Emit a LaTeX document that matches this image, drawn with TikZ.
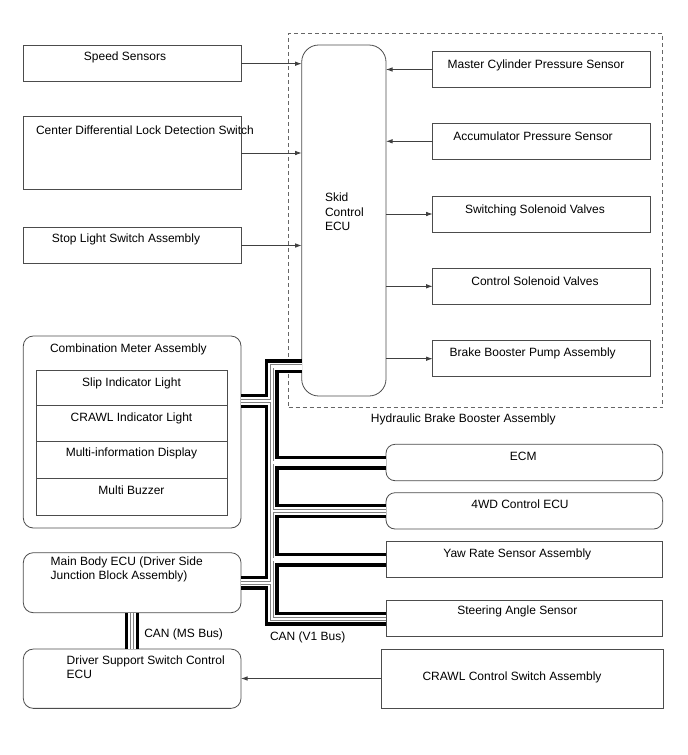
\documentclass[tikz,border=0pt]{standalone}
\usepackage{fontspec}
\setmainfont{Liberation Sans}
\usetikzlibrary{arrows.meta}
\begin{document}
\begin{tikzpicture}[x=1pt,y=-1pt,
  font=\fontsize{12}{14.3}\selectfont,
  box/.style={draw=black!70, line width=0.8pt, inner sep=0pt, outer sep=0pt},
  rbox/.style={box, rounded corners=9pt},
  txt/.style={inner sep=0pt, outer sep=0pt, text height=8.6pt, text depth=0pt},
  ltxt/.style={txt, anchor=west, align=left},
  arr/.style={draw=black!75, line width=0.8pt, -{Latex[length=6.5pt,width=4.5pt]}},
  cable/.style={draw=black, line width=3.3pt, double=white, double distance=7.4pt,
    postaction={draw=black!50, line width=0.7pt, double=white, double distance=2.4pt}},
]
\useasboundingbox (0,0) rectangle (688,755);

% Hydraulic brake booster assembly (dashed)
\node[draw=black!60, line width=0.8pt, dash pattern=on 4pt off 3pt, inner sep=0pt,
  minimum width=374.2pt, minimum height=373.8pt] (hba) at (475.6,220.4) {};
\node[txt] (thba) at (463.3,418.3) {Hydraulic Brake Booster Assembly};

% left input boxes
\node[box, minimum width=218pt, minimum height=36pt] (speed) at (132,63.7) {};
\node[box, minimum width=218pt, minimum height=72.6pt] (cdl) at (132,153) {};
\node[box, minimum width=218pt, minimum height=35.6pt] (stop) at (132,245.5) {};
\node[txt] (tspeed) at (125,56) {Speed Sensors};
\node[ltxt] (tcdl) at (36,130) {Center Differential Lock Detection Switch};
\node[txt] (tstop) at (126,238) {Stop Light Switch Assembly};

% Skid control ECU
\node[box, rounded corners=17pt, minimum width=84.3pt, minimum height=351pt] (ecu) at (343.85,220.5) {};
\node[ltxt] (tecu) at (325,226) {Skid\\Control\\ECU};

% right boxes inside hydraulic assembly
\node[box, minimum width=218pt, minimum height=35.6pt] (mcp) at (541.7,69.5) {};
\node[box, minimum width=218pt, minimum height=36pt] (acc) at (541.7,141.3) {};
\node[box, minimum width=218pt, minimum height=36pt] (ssv) at (541.7,214) {};
\node[box, minimum width=218pt, minimum height=36pt] (csv) at (541.7,286.3) {};
\node[box, minimum width=218pt, minimum height=36pt] (bbp) at (541.7,358.7) {};
\node[txt] (tmcp) at (536,64.3) {Master Cylinder Pressure Sensor};
\node[txt] (tacc) at (533,136) {Accumulator Pressure Sensor};
\node[txt] (tssv) at (535,209) {Switching Solenoid Valves};
\node[txt] (tcsv) at (535,280.7) {Control Solenoid Valves};
\node[txt] (tbbp) at (532.7,352.3) {Brake Booster Pump Assembly};

% arrows
\draw[arr] (speed.east) -- (speed.east -| ecu.west);
\draw[arr] (cdl.east) -- (cdl.east -| ecu.west);
\draw[arr] (stop.east) -- (stop.east -| ecu.west);
\draw[arr] (mcp.west) -- (mcp.west -| ecu.east);
\draw[arr] (acc.west) -- (acc.west -| ecu.east);
\draw[arr] (ecu.east |- ssv.west) -- (ssv.west);
\draw[arr] (ecu.east |- csv.west) -- (csv.west);
\draw[arr] (ecu.east |- bbp.west) -- (bbp.west);

% Combination meter
\node[box, rounded corners=10pt, minimum width=217.7pt, minimum height=192pt] (cma) at (132.15,432) {};
\node[ltxt] (tcma) at (50,348) {Combination Meter Assembly};
\node[box, minimum width=191pt, minimum height=35.5pt] (r1) at (131.5,387.75) {};
\node[box, minimum width=191pt, minimum height=35.5pt] (r2) at (131.5,423.25) {};
\node[box, minimum width=191pt, minimum height=37pt] (r3) at (131.5,459.5) {};
\node[box, minimum width=191pt, minimum height=37pt] (r4) at (131.5,496.5) {};
\node[txt] (tr1) at (131.5,382) {Slip Indicator Light};
\node[txt] (tr2) at (131.5,417) {CRAWL Indicator Light};
\node[txt] (tr3) at (131.5,452.5) {Multi-information Display};
\node[txt] (tr4) at (131.5,490) {Multi Buzzer};

% Main body ECU and driver support
\node[box, rounded corners=10pt, minimum width=217.7pt, minimum height=60pt] (mbe) at (132.15,582.7) {};
\node[ltxt] (tmbe) at (50.7,575) {Main Body ECU (Driver Side\\Junction Block Assembly)};
\node[box, rounded corners=10pt, minimum width=217.7pt, minimum height=59.3pt] (dss) at (132.15,678.7) {};
\node[ltxt] (tdss) at (66.7,674) {Driver Support Switch Control\\ECU};
\node[box, minimum width=282pt, minimum height=59pt] (crawl) at (522,678.5) {};
\node[txt] (tcrawl) at (512,676) {CRAWL Control Switch Assembly};
\draw[arr] (crawl.west) -- (crawl.west -| dss.east);

% right CAN devices
\node[box, rounded corners=9pt, minimum width=276.7pt, minimum height=36.4pt] (ecm) at (524.35,462.5) {};
\node[box, rounded corners=9pt, minimum width=276.7pt, minimum height=36.3pt] (wd4) at (524.35,510.85) {};
\node[box, minimum width=276.7pt, minimum height=35.6pt] (yaw) at (524.35,559.5) {};
\node[box, minimum width=276.7pt, minimum height=36pt] (sas) at (524.35,618.7) {};
\node[txt] (tecm) at (523.3,456) {ECM};
\node[txt] (twd4) at (520,504.3) {4WD Control ECU};
\node[txt] (tyaw) at (517.3,553.3) {Yaw Rate Sensor Assembly};
\node[txt] (tsas) at (517.3,610) {Steering Angle Sensor};

% CAN buses
\coordinate (tTop) at (271.7,366.3);
\coordinate (tBot) at (271.7,618.7);
\coordinate (jcm) at (271.7,401);
\draw[cable] (tTop -| ecu.west) -- (tTop) -- (tBot) -- (sas.west)
  (cma.east |- jcm) -- (jcm)
  (ecm.west -| tTop) -- (ecm.west)
  (wd4.west -| tTop) -- (wd4.west)
  (yaw.west -| tTop) -- (yaw.west)
  (mbe.east) -- (mbe.east -| tTop);
\draw[cable] (mbe.south) -- (dss.north);
\node[ltxt] (tms) at (144.3,633.3) {CAN (MS Bus)};
\node[ltxt] (tv1) at (270,635.7) {CAN (V1 Bus)};
\end{tikzpicture}
\end{document}
